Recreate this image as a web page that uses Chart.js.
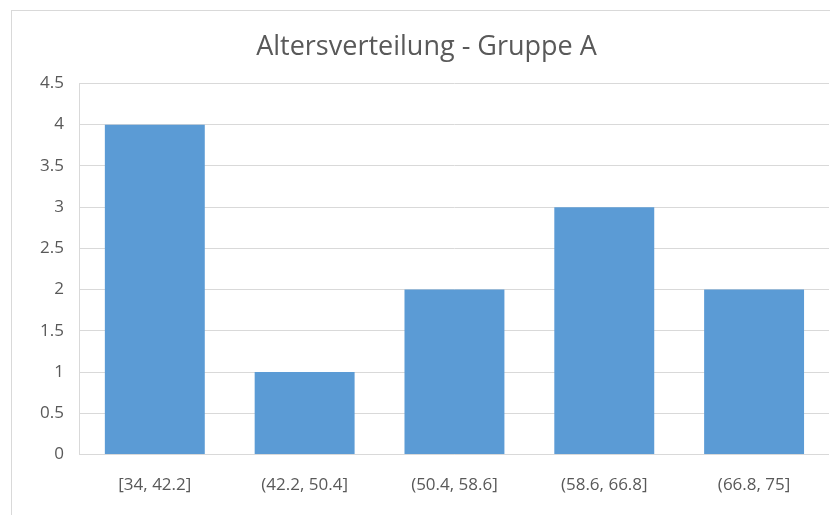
<!DOCTYPE html>
<html>
<head>
<meta charset="utf-8">
<script src="https://cdn.jsdelivr.net/npm/chart.js@4"></script>
<style>
  html, body { margin: 0; padding: 0; background: #fff; overflow: hidden; }
  #frame {
    position: absolute; left: 11px; top: 10px;
    width: 840px; height: 520px;
    border-left: 1px solid #d9d9d9; border-top: 1px solid #d9d9d9;
  }
  #wrap { position: absolute; left: 0; top: 0; width: 817px; height: 510px; }
</style>
</head>
<body>
<div id="frame"><div id="wrap"><canvas id="c"></canvas></div></div>
<script>
// Age bins and how many people fall into each
const categories = ['[34, 42.2]', '(42.2, 50.4]', '(50.4, 58.6]', '(58.6, 66.8]', '(66.8, 75]'];
const counts = [4, 1, 2, 3, 2];
const yTicks = [0, 0.5, 1, 1.5, 2, 2.5, 3, 3.5, 4, 4.5];
const chartTitle = 'Altersverteilung - Gruppe A';

const textColor = '#595959';
const gridColor = '#d9d9d9';
const fontFamily = "'Open Sans', 'Liberation Sans', sans-serif";

new Chart(document.getElementById('c'), {
  type: 'bar',
  data: {
    labels: categories,
    datasets: [{
      data: counts,
      backgroundColor: '#5b9bd5',
      borderWidth: 0,
      barPercentage: 0.667,
      categoryPercentage: 1.0
    }]
  },
  options: {
    responsive: true,
    maintainAspectRatio: false,
    animation: false,
    layout: { padding: { left: 12, right: 0, top: 6, bottom: 6 } },
    plugins: {
      legend: { display: false },
      tooltip: { enabled: false },
      title: {
        display: true,
        text: chartTitle,
        color: textColor,
        font: { family: fontFamily, size: 27, weight: 'normal' },
        padding: { top: 14, bottom: 20 }
      }
    },
    scales: {
      x: {
        grid: { display: false, drawTicks: false },
        border: { color: gridColor },
        ticks: {
          color: textColor,
          font: { family: fontFamily, size: 17 },
          padding: 20,
          maxRotation: 0
        }
      },
      y: {
        min: 0,
        max: 4.5,
        afterBuildTicks: (axis) => { axis.ticks = yTicks.map(v => ({ value: v })); },
        grid: { color: gridColor, drawTicks: false },
        border: { color: gridColor },
        ticks: {
          color: textColor,
          font: { family: fontFamily, size: 17 },
          padding: 16,
          callback: (v) => String(v)
        }
      }
    }
  }
});
</script>
</body>
</html>
